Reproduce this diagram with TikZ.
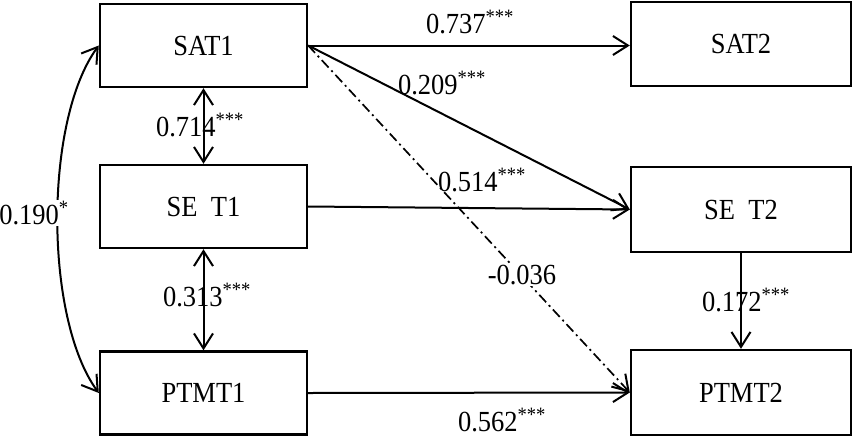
\documentclass[tikz,border=0pt]{standalone}
\usepackage{fontspec}
\setmainfont{Liberation Serif}
\usepackage{graphicx}
\usetikzlibrary{arrows.meta}
\newcommand{\vst}[1]{\scalebox{1}[1.1]{#1}}
\begin{document}
\begin{tikzpicture}[x=1pt,y=-1pt,
  box/.style={draw,line width=2.4pt,minimum width=207pt,minimum height=83pt,inner sep=0pt,font=\fontsize{26.5}{30}\selectfont},
  rbox/.style={box,minimum width=220pt,minimum height=84pt},
  conn/.style={line width=2pt,-{Straight Barb[length=15pt,width=19pt,line width=2pt]}},
  dconn/.style={conn,{Straight Barb[length=15pt,width=19pt,line width=2pt]}-{Straight Barb[length=15pt,width=19pt,line width=2pt]}},
  dashdot/.style={conn,line width=1.7pt,dash pattern=on 10pt off 4pt on 2pt off 4pt},
  lab/.style={inner sep=1pt,font=\fontsize{26.5}{30}\selectfont},
  wlab/.style={lab,fill=white}]
\useasboundingbox (0,0) rectangle (854,437);
\node[box] (sat1) at (203.5,45.5) {\vst{SAT1}};
\node[box] (set1) at (203.5,206.5) {\vst{SE\ \ T1}};
\node[box] (ptmt1) at (203.5,393) {\vst{PTMT1}};
\node[rbox] (sat2) at (741,44) {\vst{SAT2}};
\node[rbox,minimum height=85pt] (set2) at (741,209.5) {\vst{SE\ \ T2}};
\node[rbox,minimum height=85pt] (ptmt2) at (741,392.5) {\vst{PTMT2}};

\draw[conn] (sat1.east) -- (sat2.west |- sat1.east);
\draw[conn] (sat1.east) -- (set2.west);
\draw[dashdot] (sat1.east) -- (ptmt2.west);
\draw[conn] (set1.east) -- (set2.west);
\draw[conn] (ptmt1.east) -- (ptmt2.west);
\draw[conn] (set2.south) -- (ptmt2.north);
\draw[dconn] (sat1.south) -- (set1.north);
\draw[dconn] (set1.south) -- (ptmt1.north);
\draw[dconn] (sat1.west) .. controls (44,120) and (44,318) .. (ptmt1.west);

\node[lab] (l737) at (470,22) {\vst{0.737\textsuperscript{***}}};
\node[lab] (l209) at (442,83) {\vst{0.209\textsuperscript{***}}};
\node[lab] (l514) at (482,180) {\vst{0.514\textsuperscript{***}}};
\node[wlab] (l036) at (522,275) {\vst{-0.036}};
\node[lab] (l562) at (502,420) {\vst{0.562\textsuperscript{***}}};
\node[lab] (l714) at (200,125) {\vst{0.714\textsuperscript{***}}};
\node[lab] (l313) at (207,295) {\vst{0.313\textsuperscript{***}}};
\node[lab] (l172) at (746,300) {\vst{0.172\textsuperscript{***}}};
\node[wlab] (l190) at (34,213) {\vst{0.190\textsuperscript{*}}};
\end{tikzpicture}
\end{document}
